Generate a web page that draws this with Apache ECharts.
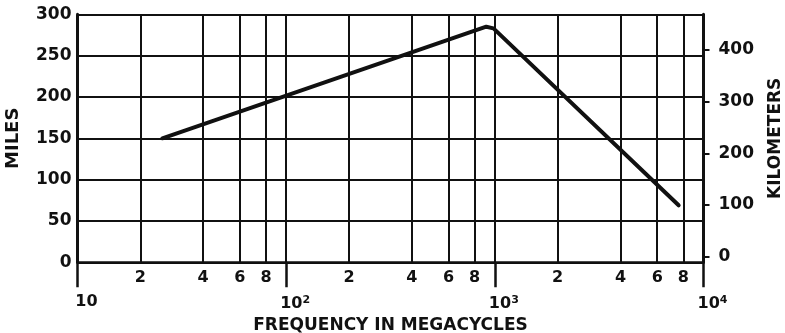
<!DOCTYPE html>
<html>
<head>
<meta charset="utf-8">
<script src="https://cdn.jsdelivr.net/npm/echarts@6/dist/echarts.min.js"></script>
<style>
  html, body { margin: 0; padding: 0; background: #fff; }
  #chart { width: 785px; height: 333px; }
</style>
</head>
<body>
<div id="chart"></div>
<script>
// Maximum range (miles) against frequency (megacycles)
const rangeFreqs = [25.5, 910, 985, 7600];
const rangeMiles = [150, 285, 283, 69];

// Intermediate gridlines inside each decade, labelled by leading digit
const minorFreqs = [20, 40, 60, 80, 200, 400, 600, 800, 2000, 4000, 6000, 8000];
const minorLabels = ['2', '4', '6', '8', '2', '4', '6', '8', '2', '4', '6', '8'];

// Decade labels (exponent shown as superscript)
const decadeValues = [10, 100, 1000, 10000];
const decadeExponents = ['', '2', '3', '4'];

// Left and right scales
const mileTicks = [0, 50, 100, 150, 200, 250, 300];
const kmTicks = [0, 100, 200, 300, 400];
const kmRange = [-11, 469];

const INK = '#111';
const FONT = 'DejaVu Sans';

const chart = echarts.init(document.getElementById('chart'), null, { renderer: 'canvas' });

const option = {
  backgroundColor: '#fff',
  animation: false,
  grid: { left: 77.5, right: 81.5, top: 14.3, bottom: 70.7, containLabel: false, outerBoundsMode: 'none' },
  xAxis: {
    type: 'log',
    logBase: 10,
    min: decadeValues[0],
    max: decadeValues[decadeValues.length - 1],
    name: 'FREQUENCY IN MEGACYCLES',
    nameLocation: 'middle',
    nameGap: 52,
    nameTextStyle: { fontFamily: FONT, fontSize: 17, fontWeight: 'bold', color: INK },
    axisLine: { show: true, lineStyle: { color: INK, width: 2.5 } },
    axisTick: { show: true, length: 25, lineStyle: { color: INK, width: 2.5 } },
    splitLine: { show: true, lineStyle: { color: INK, width: 2 } },
    minorTick: { show: false },
    minorSplitLine: { show: false },
    axisLabel: {
      margin: 32,
      align: 'center',
      fontFamily: FONT,
      fontSize: 16,
      fontWeight: 'bold',
      color: INK,
      formatter: function (v) {
        const i = decadeValues.findIndex(d => Math.abs(d - v) / d < 1e-6);
        if (i < 0) return '';
        const exp = decadeExponents[i];
        return '{sp| }{b|10}' + (exp ? '{s|' + exp + '}' : '');
      },
      rich: {
        sp: { width: 18 },
        b: { fontFamily: FONT, fontSize: 16, fontWeight: 'bold', color: INK },
        s: { fontFamily: FONT, fontSize: 11, fontWeight: 'bold', color: INK, verticalAlign: 'top', padding: [0, 0, 8, 0] }
      }
    }
  },
  yAxis: [
    {
      type: 'value',
      min: mileTicks[0],
      max: mileTicks[mileTicks.length - 1],
      interval: mileTicks[1] - mileTicks[0],
      name: 'MILES',
      nameLocation: 'middle',
      nameRotate: 90,
      nameGap: 55,
      nameTextStyle: { fontFamily: FONT, fontSize: 18, fontWeight: 'bold', color: INK },
      axisLine: { show: true, lineStyle: { color: INK, width: 3 } },
      axisTick: { show: false },
      splitLine: { show: true, lineStyle: { color: INK, width: 2 } },
      axisLabel: { margin: 6, fontFamily: FONT, fontSize: 17, fontWeight: 'bold', color: INK }
    },
    {
      type: 'value',
      position: 'right',
      min: kmRange[0],
      max: kmRange[1],
      name: 'KILOMETERS',
      nameLocation: 'middle',
      nameRotate: 90,
      nameGap: 64,
      nameTextStyle: { fontFamily: FONT, fontSize: 17, fontWeight: 'bold', color: INK },
      axisLine: { show: true, lineStyle: { color: INK, width: 3 } },
      axisTick: { show: true, customValues: kmTicks, length: 6, lineStyle: { color: INK, width: 2 } },
      splitLine: { show: false },
      axisLabel: { customValues: kmTicks, margin: 15, fontFamily: FONT, fontSize: 17, fontWeight: 'bold', color: INK }
    }
  ],
  series: [
    {
      type: 'line',
      xAxisIndex: 0,
      yAxisIndex: 0,
      data: rangeFreqs.map((f, i) => [f, rangeMiles[i]]),
      showSymbol: false,
      symbol: 'none',
      z: 5,
      lineStyle: { color: INK, width: 4, cap: 'round', join: 'round' },
      markLine: {
        silent: true,
        symbol: ['none', 'none'],
        z: 1,
        lineStyle: { color: INK, width: 2, type: 'solid' },
        label: {
          show: true,
          position: 'start',
          distance: 8,
          fontFamily: FONT,
          fontSize: 16,
          fontWeight: 'bold',
          color: INK,
          formatter: function (p) { return minorLabels[p.dataIndex]; }
        },
        emphasis: { disabled: true },
        data: minorFreqs.map(f => ({ xAxis: f }))
      }
    }
  ]
};

chart.setOption(option);
</script>
</body>
</html>
